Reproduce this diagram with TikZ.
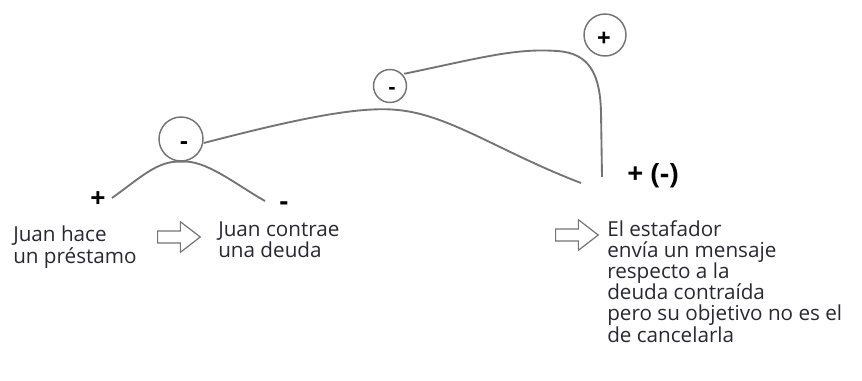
\documentclass[tikz,border=0pt]{standalone}
\usepackage{fontspec}
\setmainfont{Open Sans}
\usetikzlibrary{shapes.arrows}
\definecolor{curve}{HTML}{747474}
\definecolor{ink}{HTML}{2A2733}
\begin{document}
\begin{tikzpicture}[x=0.75pt,y=-0.75pt,
  line/.style={draw=curve,line width=1.4pt},
  ring/.style={circle,draw=curve,line width=1.1pt,inner sep=0pt},
  sign/.style={inner sep=0pt,text=black,font=\fontsize{20}{20}\selectfont\bfseries},
  txt/.style={inner sep=0pt,text=ink,align=left,anchor=north west,
    font=\fontsize{15.5}{15.9}\selectfont},
  step arrow/.style={single arrow,draw=curve,line width=0.9pt,fill=white,
    minimum height=32pt,inner xsep=0pt,inner ysep=4pt,
    single arrow head extend=7pt,single arrow tip angle=75,anchor=west}]
\useasboundingbox (0,0) rectangle (862,381);

% circled signs
\node[ring,minimum size=44*0.75pt] (c1) at (181,139) {};
\node[sign,font=\fontsize{18}{18}\selectfont\bfseries] at (184,146) {-};
\node[ring,minimum size=33*0.75pt] (c2) at (390,86) {};
\node[sign,font=\fontsize{16}{16}\selectfont\bfseries] at (392,91) {-};
\node[ring,minimum size=42*0.75pt] (c3) at (605,35) {};
\node[sign,font=\fontsize{18}{18}\selectfont\bfseries] at (604,39) {+};

% signs at the ends of the first arc
\node[sign] (pl) at (98,200) {+};
\node[sign] (mi) at (284,206) {-};
\node[sign,font=\fontsize{21}{21}\selectfont\bfseries,anchor=west] (pm) at (627,176) {+ (-)};

\coordinate (a1) at (112,198);
\coordinate (a2) at (265,201);
\coordinate (b2) at (581,183);
\coordinate (d2) at (602,177);

% curves
\draw[line] (a1) .. controls (140,178) and (158,160) .. (c1.south)
  .. controls (205,159) and (235,184) .. (a2);
\draw[line] (c1.east) ++(0,4) .. controls (300,118) and (360,106) .. (398,110)
  .. controls (450,115) and (500,152) .. (b2);
\draw[line] (c2.north east) ++(2,0) .. controls (480,58) and (515,48) .. (557,51)
  .. controls (590,53) and (600,75) .. (601,112) -- (d2);

% hollow arrows
\node[step arrow] (ar1) at (157,237) {};
\node[step arrow] (ar2) at (555,235) {};

% texts
\node[txt] (t1) at (13,226) {Juan hace\\un préstamo};
\node[txt] (t2) at (218,221) {Juan contrae\\una deuda};
\node[txt] (t3) at (607,220) {El estafador\\envía un mensaje\\respecto a la\\deuda contraída\\pero su objetivo no es el\\de cancelarla};
\end{tikzpicture}
\end{document}
